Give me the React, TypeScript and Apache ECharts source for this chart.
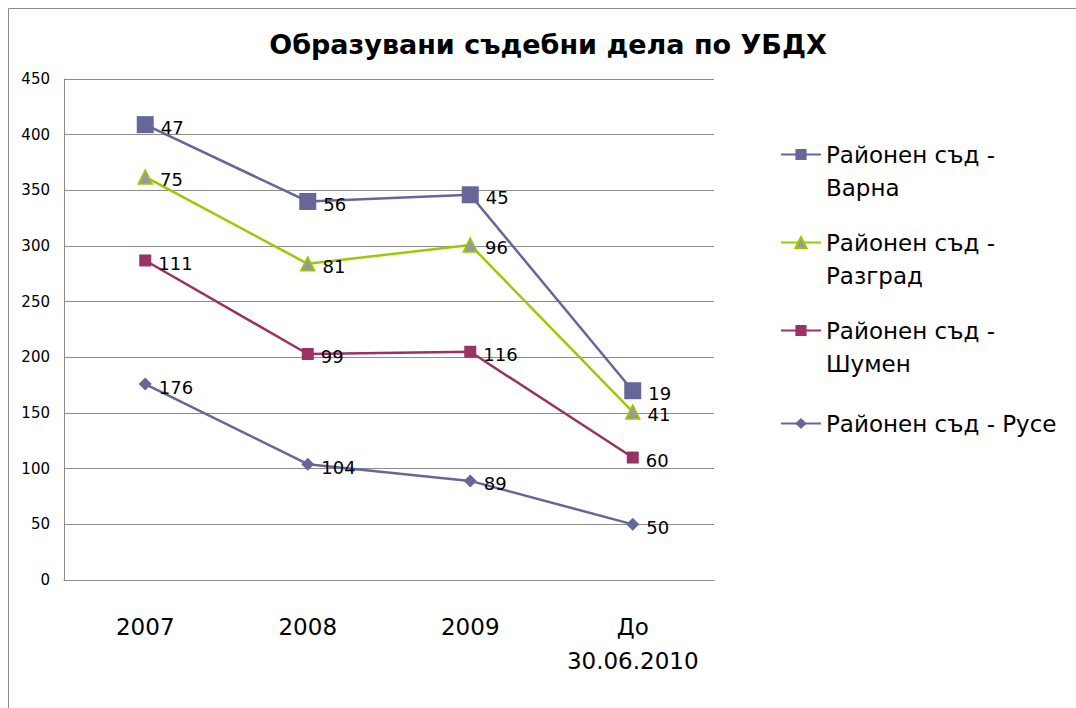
import React, { useEffect, useRef } from "react";
import * as echarts from "echarts";

const categories = ["2007", "2008", "2009", "До\n30.06.2010"];
const seriesNames = [
  "Районен съд - Варна",
  "Районен съд - Разград",
  "Районен съд - Шумен",
  "Районен съд - Русе",
];
const varna = [47, 56, 45, 19];
const razgrad = [75, 81, 96, 41];
const shumen = [111, 99, 116, 60];
const ruse = [176, 104, 89, 50];
const yTicks = { min: 0, max: 450, interval: 50 };

const FONT = "DejaVu Sans";

export default function App() {
  const ref = useRef<HTMLDivElement>(null);
  useEffect(() => {
    document.body.style.margin = "0";
    const chart = echarts.init(ref.current!, undefined, { renderer: "svg" });
    const label = {
      show: true,
      position: "right" as const,
      distance: 7,
      offset: [0, 3],
      color: "#000",
      fontFamily: FONT,
      fontSize: 18,
      formatter: "{c}",
    };
    const mk = (
      name: string,
      data: number[],
      color: string,
      symbol: string,
      symbolSize: number,
      fill?: string
    ) => ({
      name,
      type: "line",
      stack: "total",
      data,
      symbol,
      symbolSize,
      showSymbol: true,
      lineStyle: { color, width: 2.5 },
      itemStyle: fill
        ? { color: fill, borderColor: color, borderWidth: 1.5 }
        : { color, borderWidth: 0 },
      label,
      z: 3,
    });
    chart.setOption({
      animation: false,
      backgroundColor: "#fff",
      title: {
        text: "Образувани съдебни дела по УБДХ",
        left: 543,
        textAlign: "center",
        top: 26,
        textStyle: { fontFamily: FONT, fontWeight: "bold", fontSize: 27, color: "#000" },
      },
      graphic: [
        {
          type: "rect",
          shape: { x: 8.5, y: 8.5, width: 2000, height: 2000 },
          style: { fill: "none", stroke: "#8c8c8c", lineWidth: 1 },
          silent: true,
        },
      ],
      legend: {
        orient: "vertical",
        left: 780,
        top: 105,
        padding: 0,
        itemGap: -11,
        itemWidth: 40,
        itemHeight: 14,
        textStyle: { fontFamily: FONT, fontSize: 23, color: "#000", lineHeight: 33 },
        formatter: (name: string) =>
          name === seriesNames[3] ? name : "\n" + name.replace("- ", "-\n"),
        data: [
          { name: seriesNames[0] },
          { name: seriesNames[1] },
          { name: seriesNames[2] },
          { name: seriesNames[3], textStyle: { padding: [38, 0, 38, 0] } },
        ],
      },
      grid: { left: 64, right: 362, top: 79, bottom: 128, containLabel: false },
      xAxis: {
        type: "category",
        data: categories,
        boundaryGap: true,
        axisLine: { show: true, lineStyle: { color: "#8c8c8c", width: 1 } },
        axisTick: { show: false },
        axisLabel: {
          color: "#000",
          fontFamily: FONT,
          fontSize: 23,
          lineHeight: 34,
          margin: 30,
          interval: 0,
        },
        splitLine: { show: false },
      },
      yAxis: {
        type: "value",
        min: yTicks.min,
        max: yTicks.max,
        interval: yTicks.interval,
        axisLine: { show: true, lineStyle: { color: "#8c8c8c", width: 1 } },
        axisTick: { show: false },
        axisLabel: { color: "#000", fontFamily: FONT, fontSize: 15, margin: 14 },
        splitLine: { show: true, lineStyle: { color: "#8c8c8c", width: 1 } },
      },
      series: [
        mk(seriesNames[3], ruse, "#666699", "diamond", 13),
        mk(seriesNames[2], shumen, "#993366", "rect", 12),
        mk(seriesNames[1], razgrad, "#99cc00", "triangle", 14, "#999999"),
        mk(seriesNames[0], varna, "#666699", "rect", 17),
      ],
    });
    return () => chart.dispose();
  }, []);
  return <div ref={ref} style={{ width: 1076, height: 708 }} />;
}
